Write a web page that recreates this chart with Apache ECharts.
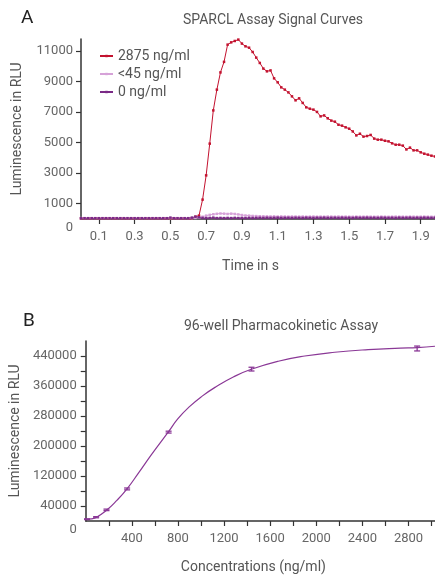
<!DOCTYPE html>
<html>
<head>
<meta charset="utf-8">
<script src="https://cdn.jsdelivr.net/npm/echarts@6.0.0/dist/echarts.min.js"></script>
<style>
  html, body { margin: 0; padding: 0; background: #fff; }
  #chart { width: 435px; height: 578px; }
</style>
</head>
<body>
<div id="chart"></div>
<script>
// panel A - signal curves, one reading every 0.02 s
const timeS = [
  0.00, 0.02, 0.04, 0.06, 0.08, 0.10, 0.12, 0.14, 0.16, 0.18,
  0.20, 0.22, 0.24, 0.26, 0.28, 0.30, 0.32, 0.34, 0.36, 0.38,
  0.40, 0.42, 0.44, 0.46, 0.48, 0.50, 0.52, 0.54, 0.56, 0.58,
  0.60, 0.62, 0.64, 0.66, 0.68, 0.70, 0.72, 0.74, 0.76, 0.78,
  0.80, 0.82, 0.84, 0.86, 0.88, 0.90, 0.92, 0.94, 0.96, 0.98,
  1.00, 1.02, 1.04, 1.06, 1.08, 1.10, 1.12, 1.14, 1.16, 1.18,
  1.20, 1.22, 1.24, 1.26, 1.28, 1.30, 1.32, 1.34, 1.36, 1.38,
  1.40, 1.42, 1.44, 1.46, 1.48, 1.50, 1.52, 1.54, 1.56, 1.58,
  1.60, 1.62, 1.64, 1.66, 1.68, 1.70, 1.72, 1.74, 1.76, 1.78,
  1.80, 1.82, 1.84, 1.86, 1.88, 1.90, 1.92, 1.94, 1.96, 1.98
];
const sig2875 = [
  40, 40, 40, 40, 40, 40, 40, 40, 40, 40,
  40, 40, 40, 40, 40, 40, 40, 40, 40, 40,
  40, 40, 40, 40, 40, 40, 40, 40, 40, 40,
  40, 40, 150, 220, 1270, 2860, 4940, 7120, 8480, 9610,
  10300, 11430, 11580, 11670, 11760, 11500, 11320, 11230, 10950, 10580,
  10230, 9860, 9680, 9740, 9220, 8960, 8630, 8480, 8300, 8040,
  7780, 7910, 7610, 7320, 7230, 7170, 7020, 6730, 6790, 6600,
  6450, 6380, 6180, 6120, 6010, 5920, 5740, 5480, 5590, 5400,
  5440, 5510, 5270, 5200, 5200, 5130, 5090, 4960, 4870, 4870,
  4810, 4560, 4680, 4500, 4500, 4370, 4280, 4220, 4150, 4100
];
const sigLow = [
  60, 60, 60, 60, 60, 60, 60, 60, 60, 60,
  60, 60, 60, 60, 60, 60, 60, 60, 60, 60,
  60, 60, 60, 60, 60, 60, 60, 60, 60, 60,
  60, 60, 70, 90, 150, 220, 270, 310, 340, 360,
  350, 330, 350, 330, 300, 260, 230, 220, 200, 190,
  180, 175, 170, 165, 170, 160, 165, 160, 155, 160,
  160, 155, 160, 150, 155, 160, 150, 155, 150, 160,
  155, 150, 160, 150, 155, 150, 145, 155, 150, 150,
  155, 150, 145, 150, 155, 150, 145, 150, 155, 150,
  150, 145, 155, 150, 145, 150, 155, 150, 145, 150
];
const sigZero = [
  50, 50, 50, 50, 50, 50, 50, 50, 50, 50,
  50, 50, 50, 50, 50, 50, 50, 50, 50, 50,
  50, 50, 50, 50, 50, 90, 50, 50, 50, 50,
  50, 90, 150, 110, 70, 60, 70, 90, 60, 70,
  60, 70, 60, 75, 65, 70, 60, 70, 65, 70,
  75, 70, 80, 70, 75, 85, 70, 75, 80, 70,
  80, 75, 70, 85, 75, 70, 80, 75, 85, 70,
  75, 80, 70, 85, 75, 80, 70, 90, 75, 80,
  85, 75, 80, 70, 85, 80, 75, 80, 70, 85,
  75, 80, 85, 70, 80, 75, 85, 80, 75, 80
];
const timeTicks = [0.1, 0.3, 0.5, 0.7, 0.9, 1.1, 1.3, 1.5, 1.7, 1.9];
const rluLabelsA = [0, 1000, 3000, 5000, 7000, 9000, 11000];
const rluTicksA = [1000, 3000, 5000, 7000, 9000, 11000];

// panel B - standard curve
const concPts = [11, 90, 180, 359, 719, 1438, 2875];
const rluMean = [4800, 10100, 29700, 85500, 237000, 405000, 460000];
const rluErr = [1000, 1500, 2000, 2500, 2500, 5000, 6500];
const fitConc = [0, 45, 90, 180, 270, 360, 460, 570, 720, 800, 900, 1010, 1130, 1280, 1430, 1670, 1900, 2160, 2450, 2730, 2875, 3030];
const fitRlu = [3500, 5500, 9500, 28500, 55000, 86500, 129000, 177000, 239000, 273000, 305000, 333000, 358000, 384000, 404000, 426000, 440000, 450000, 457000, 461000, 462500, 466000];
const concLabels = [400, 800, 1200, 1600, 2000, 2400, 2800];
const concTicks = [200, 400, 600, 800, 1000, 1200, 1400, 1600, 1800, 2000, 2200, 2400, 2600, 2800, 3000];
const rluLabelsB = [0, 40000, 120000, 200000, 280000, 360000, 440000];
const rluTicksB = [40000, 80000, 120000, 160000, 200000, 240000, 280000, 320000, 360000, 400000, 440000];

const font = 'Roboto';
const red = '#c3122f';
const pink = '#d6a2d8';
const plum = '#7a2a86';
const violet = '#8a3896';

const axisLine = { lineStyle: { color: '#333', width: 1.5 } };
const tick = { length: 5, lineStyle: { color: '#333', width: 1.2 } };
const labelStyle = { color: '#666', fontSize: 13, fontFamily: font };
const nameStyle = { color: '#555', fontSize: 14, fontFamily: font };
// the "0" label sits in the corner, a bit below the axis
const zeroFmt = v => (v === 0 ? '{z|0}' : String(v));
const zeroRich = { z: { color: '#666', fontSize: 13, fontFamily: font, padding: [18, 0, 0, 0] } };

const pair = (xs, ys) => xs.map((x, i) => [x, ys[i]]);

const myChart = echarts.init(document.getElementById('chart'));

const option = {
  animation: false,
  title: [
    { text: 'A', left: 16, top: 4, textStyle: { color: '#222', fontSize: 19, fontWeight: 'normal', fontFamily: font } },
    { text: 'SPARCL Assay Signal Curves', left: 268, top: 8, textAlign: 'center',
      textStyle: { color: '#555', fontSize: 14, fontWeight: 'normal', fontFamily: font } },
    { text: 'B', left: 18, top: 307, textStyle: { color: '#222', fontSize: 19, fontWeight: 'normal', fontFamily: font } },
    { text: '96-well Pharmacokinetic Assay', left: 276, top: 314, textAlign: 'center',
      textStyle: { color: '#555', fontSize: 14, fontWeight: 'normal', fontFamily: font } }
  ],
  legend: {
    data: ['2875 ng/ml', '<45 ng/ml', '0 ng/ml'],
    orient: 'vertical',
    left: 94,
    top: 44,
    itemWidth: 13,
    itemHeight: 3,
    itemGap: 4,
    textStyle: { color: '#555', fontSize: 14, fontFamily: font }
  },
  grid: [
    { left: 81, top: 39, width: 354, height: 180 },
    { left: 82, top: 341, width: 353, height: 180 }
  ],
  xAxis: [
    {
      gridIndex: 0, type: 'value', min: 0, max: 1.98,
      name: 'Time in s', nameLocation: 'middle', nameGap: 40,
      nameTextStyle: Object.assign({ padding: [0, 15, 0, 0] }, nameStyle),
      axisLine: axisLine,
      axisTick: Object.assign({ customValues: timeTicks }, tick),
      axisLabel: Object.assign({ customValues: timeTicks, margin: 11, formatter: v => v.toFixed(1) }, labelStyle),
      splitLine: { show: false }
    },
    {
      gridIndex: 1, type: 'value', min: 0, max: 3030,
      name: 'Concentrations (ng/ml)', nameLocation: 'middle', nameGap: 39,
      nameTextStyle: Object.assign({ padding: [0, 14, 0, 0] }, nameStyle),
      axisLine: axisLine,
      axisTick: Object.assign({ customValues: concTicks }, tick),
      axisLabel: Object.assign({ customValues: concLabels, margin: 11, formatter: v => String(v) }, labelStyle),
      splitLine: { show: false }
    }
  ],
  yAxis: [
    {
      gridIndex: 0, type: 'value', min: 0, max: 11800,
      name: 'Luminescence in RLU', nameLocation: 'middle', nameGap: 57,
      nameTextStyle: nameStyle,
      axisLine: Object.assign({ show: true }, axisLine),
      axisTick: Object.assign({ show: true, customValues: rluTicksA }, tick),
      axisLabel: Object.assign({ customValues: rluLabelsA, margin: 8, formatter: zeroFmt, rich: zeroRich }, labelStyle),
      splitLine: { show: false }
    },
    {
      gridIndex: 1, type: 'value', min: 0, max: 480000,
      name: 'Luminescence in RLU', nameLocation: 'middle', nameGap: 59,
      nameTextStyle: nameStyle,
      axisLine: Object.assign({ show: true }, axisLine),
      axisTick: Object.assign({ show: true, customValues: rluTicksB }, tick),
      axisLabel: Object.assign({ customValues: rluLabelsB, margin: 9, formatter: zeroFmt, rich: zeroRich }, labelStyle),
      splitLine: { show: false }
    }
  ],
  series: [
    {
      name: '2875 ng/ml', type: 'line', xAxisIndex: 0, yAxisIndex: 0,
      data: pair(timeS, sig2875),
      symbol: 'rect', symbolSize: 2.5,
      lineStyle: { color: red, width: 1 }, itemStyle: { color: red }
    },
    {
      name: '<45 ng/ml', type: 'line', xAxisIndex: 0, yAxisIndex: 0,
      data: pair(timeS, sigLow),
      symbol: 'rect', symbolSize: 2.5,
      lineStyle: { color: pink, width: 1 }, itemStyle: { color: pink }
    },
    {
      name: '0 ng/ml', type: 'line', xAxisIndex: 0, yAxisIndex: 0,
      data: pair(timeS, sigZero),
      symbol: 'rect', symbolSize: 2.5,
      lineStyle: { color: plum, width: 1 }, itemStyle: { color: plum }
    },
    {
      name: 'fit', type: 'line', xAxisIndex: 1, yAxisIndex: 1,
      data: pair(fitConc, fitRlu),
      smooth: true, showSymbol: false,
      lineStyle: { color: violet, width: 1.2 }
    },
    {
      name: 'error', type: 'custom', xAxisIndex: 1, yAxisIndex: 1,
      data: concPts.map((c, i) => [c, rluMean[i] - rluErr[i], rluMean[i] + rluErr[i]]),
      renderItem: function (params, api) {
        const lo = api.coord([api.value(0), api.value(1)]);
        const hi = api.coord([api.value(0), api.value(2)]);
        const w = 3;
        const st = { stroke: violet, lineWidth: 1.3 };
        return {
          type: 'group',
          children: [
            { type: 'line', shape: { x1: lo[0], y1: lo[1], x2: hi[0], y2: hi[1] }, style: st },
            { type: 'line', shape: { x1: lo[0] - w, y1: lo[1], x2: lo[0] + w, y2: lo[1] }, style: st },
            { type: 'line', shape: { x1: hi[0] - w, y1: hi[1], x2: hi[0] + w, y2: hi[1] }, style: st }
          ]
        };
      }
    }
  ]
};

myChart.setOption(option);
</script>
</body>
</html>
